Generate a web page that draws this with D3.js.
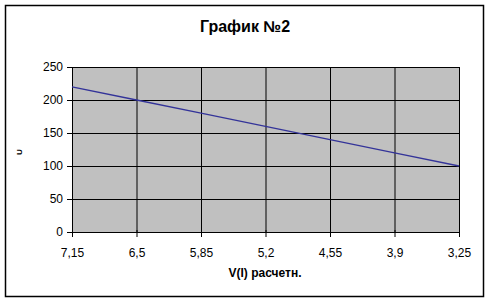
<!DOCTYPE html>
<meta charset="utf-8">
<script src="https://d3js.org/d3.v7.min.js"></script>
<style>
  body { margin: 0; background: #fff; }
  text { font-family: "Liberation Sans", Arial, sans-serif; }
</style>
<div id="chart"></div>
<script>
// data
var categories = ["7,15", "6,5", "5,85", "5,2", "4,55", "3,9", "3,25"];
var values = [220, 200, 180, 160, 140, 120, 100];
var yTicks = [0, 50, 100, 150, 200, 250];

var W = 489, H = 302;
var margin = {top: 67, right: 30, bottom: 70, left: 72},
    width = 459 - margin.left,
    height = 232 - margin.top;

var svg = d3.select("#chart").append("svg")
    .attr("width", W).attr("height", H);

// outer frame
svg.append("rect")
    .attr("x", 5.5).attr("y", 5.5)
    .attr("width", 478).attr("height", 291)
    .attr("fill", "#fff").attr("stroke", "#000").attr("stroke-width", 1.5);

svg.append("text")
    .attr("x", 245).attr("y", 32)
    .attr("text-anchor", "middle")
    .style("font-size", "16px").style("font-weight", "bold")
    .text("График №2");

var g = svg.append("g")
    .attr("transform", "translate(" + margin.left + "," + margin.top + ")");

var x = d3.scalePoint().domain(categories).range([0, width]);
var y = d3.scaleLinear().domain([0, 250]).range([height, 0]);

// plot background
g.append("rect")
    .attr("width", width).attr("height", height)
    .attr("fill", "#c0c0c0");

// grid
g.selectAll(".hgrid").data(yTicks.slice(1)).enter().append("line")
    .attr("x1", 0).attr("x2", width)
    .attr("y1", function(d) { return y(d) + 0.5; })
    .attr("y2", function(d) { return y(d) + 0.5; })
    .attr("stroke", "#000");
g.selectAll(".vgrid").data(categories.slice(1)).enter().append("line")
    .attr("x1", function(d) { return x(d) + 0.5; })
    .attr("x2", function(d) { return x(d) + 0.5; })
    .attr("y1", 0).attr("y2", height)
    .attr("stroke", "#000");

// axes
var xAxis = g.append("g")
    .attr("transform", "translate(0," + height + ")")
    .call(d3.axisBottom(x).tickSizeOuter(0).tickSizeInner(5).tickPadding(11));
var yAxis = g.append("g")
    .call(d3.axisLeft(y).tickValues(yTicks).tickSizeOuter(0).tickSizeInner(5).tickPadding(4));
[xAxis, yAxis].forEach(function(a) {
  a.selectAll("text").style("font-size", "12px").attr("fill", "#000")
    .style("font-family", "'Liberation Sans', Arial, sans-serif");
  a.selectAll("line, path").attr("stroke", "#000");
});
xAxis.selectAll(".tick line").attr("y1", -2);

// series
var line = d3.line()
    .x(function(d, i) { return x(categories[i]); })
    .y(function(d) { return y(d); });
g.append("path")
    .datum(values)
    .attr("d", line)
    .attr("fill", "none")
    .attr("stroke", "#333399")
    .attr("stroke-width", 1.3);

// axis titles
svg.append("text")
    .attr("x", 265).attr("y", 277)
    .attr("text-anchor", "middle")
    .style("font-size", "12px").style("font-weight", "bold")
    .text("V(I) расчетн.");
svg.append("text")
    .attr("transform", "translate(22,152) rotate(-90)")
    .attr("text-anchor", "middle")
    .style("font-size", "8px").style("font-weight", "bold")
    .text("U");
</script>
